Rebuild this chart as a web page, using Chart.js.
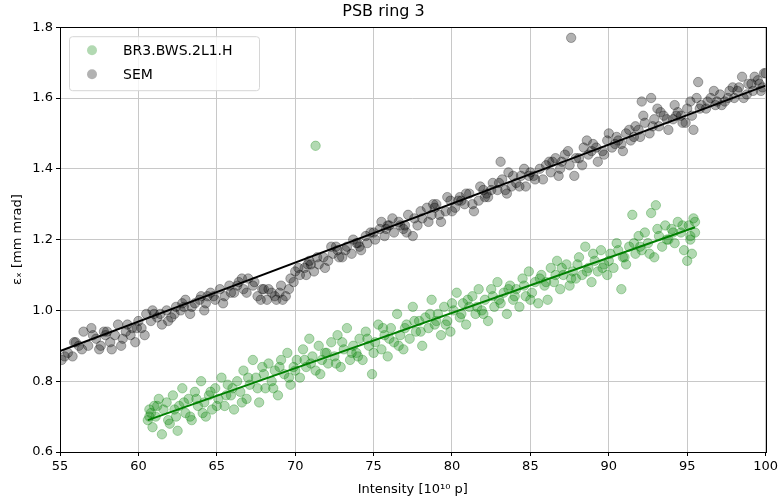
<!DOCTYPE html>
<html>
<head>
<meta charset="utf-8">
<script src="https://cdn.jsdelivr.net/npm/chart.js@4.4.1/dist/chart.umd.min.js"></script>
<style>
  html, body { margin: 0; padding: 0; background: #fff; }
  #wrap { width: 781px; height: 504px; }
</style>
</head>
<body>
<div id="wrap"><canvas id="chart" width="781" height="504"></canvas></div>
<script>
// PSB ring 3 - emittance vs intensity

const titulo = "PSB ring 3";
const xTicks = [55, 60, 65, 70, 75, 80, 85, 90, 95, 100];
const yTicks = [0.6, 0.8, 1.0, 1.2, 1.4, 1.6, 1.8];

// SEM (pontos pretos)
const semX = [
  55.1, 55.5, 55.8, 56.2, 56.5, 56.8, 57.0, 57.3, 57.6, 57.9, 58.2, 58.3, 58.5, 58.7, 59.0,
  59.2, 59.5, 59.8, 60.0, 60.2, 60.5, 60.8, 61.2, 61.5, 61.8, 62.1, 62.4, 62.7, 63.0, 63.3,
  63.6, 64.0, 64.3, 64.6, 64.9, 65.2, 65.5, 65.8, 66.1, 66.4, 66.7, 67.0, 67.3, 67.6, 67.9,
  68.2, 68.5, 68.8, 69.1, 69.4, 69.7, 70.0, 70.3, 70.6, 70.9, 71.2, 71.5, 71.8, 72.1, 72.4,
  72.7, 73.0, 73.3, 73.6, 73.9, 74.2, 74.5, 74.8, 75.1, 75.4, 75.7, 76.0, 76.3, 76.6, 76.9,
  77.2, 77.5, 77.8, 78.1, 78.4, 78.7, 79.0, 79.3, 79.6, 79.9, 80.2, 80.5, 80.8, 81.1, 81.4,
  81.7, 82.0, 82.3, 82.6, 82.9, 83.2, 83.5, 83.8, 83.6, 83.1, 84.1, 84.4, 84.7, 85.0, 85.3,
  85.6, 86.0, 86.3, 86.6, 86.9, 87.2, 87.5, 87.8, 88.1, 88.4, 88.7, 89.0, 89.3, 89.6, 89.9,
  90.2, 90.5, 90.8, 91.1, 91.4, 91.7, 92.0, 92.1, 92.7, 92.3, 92.6, 92.9, 93.2, 93.5, 93.8,
  93.1, 94.1, 94.4, 94.7, 95.0, 95.3, 95.4, 95.7, 95.6, 95.9, 96.2, 96.5, 96.8, 97.1, 97.4,
  97.7, 98.0, 98.3, 98.6, 98.9, 99.2, 99.5, 99.8, 99.9, 99.3, 98.5, 87.6,
  56.0, 57.8, 59.6, 61.0, 62.9, 64.4, 66.6, 68.0, 69.0, 70.8, 72.6, 74.0, 75.9, 77.0, 78.9,
  80.6, 82.2, 84.9, 86.4, 88.9, 90.6, 91.9, 94.3, 96.9, 97.9, 99.6,
  55.3, 55.9, 56.4, 57.1, 57.5, 58.0, 58.9, 59.3, 59.9, 60.4, 60.9, 61.4, 61.9, 62.3, 62.8,
  63.4, 63.9, 64.2, 64.8, 65.4, 65.9, 66.3, 66.9, 67.4, 67.8, 68.3, 68.7, 69.2, 69.6, 69.9,
  70.2, 70.7, 71.0, 71.4, 71.9, 72.3, 72.8, 73.2, 73.7, 74.1, 74.6, 75.0, 75.5, 75.8, 76.2,
  76.7, 77.1, 77.6, 78.0, 78.5, 78.8, 79.2, 79.7, 80.0, 80.4, 80.9, 81.3, 81.8, 82.1, 82.5,
  83.0, 83.4, 83.9, 84.3, 84.6, 85.2, 85.8, 86.2, 86.8, 87.0, 87.4, 87.9, 88.3, 88.6, 89.2,
  89.7, 90.0, 90.4, 90.9, 91.3, 91.6, 92.2, 92.8, 93.3, 93.7, 94.2, 94.6, 94.9, 95.2, 95.8,
  96.3, 96.7, 97.2, 97.6, 98.2, 98.8, 99.1, 99.7, 100.0
];
const semY = [
  0.86, 0.88, 0.87, 0.90, 0.94, 0.90, 0.95, 0.92, 0.90, 0.93, 0.91, 0.89, 0.93, 0.96, 0.92,
  0.94, 0.93, 0.91, 0.97, 0.95, 0.99, 0.97, 0.98, 0.96, 1.00, 0.98, 1.01, 1.00, 1.03, 0.99,
  1.02, 1.04, 1.02, 1.05, 1.03, 1.06, 1.04, 1.07, 1.05, 1.08, 1.06, 1.09, 1.07, 1.04, 1.06,
  1.03, 1.05, 1.03, 1.07, 1.04, 1.09, 1.11, 1.10, 1.12, 1.14, 1.11, 1.13, 1.15, 1.14, 1.16,
  1.17, 1.15, 1.18, 1.16, 1.19, 1.17, 1.21, 1.22, 1.20, 1.23, 1.21, 1.24, 1.22, 1.25, 1.23,
  1.27, 1.21, 1.24, 1.26, 1.29, 1.27, 1.30, 1.25, 1.28, 1.31, 1.29, 1.32, 1.30, 1.33, 1.28,
  1.31, 1.34, 1.32, 1.36, 1.34, 1.37, 1.33, 1.35, 1.39, 1.42, 1.36, 1.38, 1.35, 1.39, 1.37,
  1.40, 1.41, 1.39, 1.43, 1.40, 1.44, 1.41, 1.38, 1.43, 1.46, 1.44, 1.47, 1.42, 1.45, 1.48,
  1.46, 1.49, 1.47, 1.50, 1.48, 1.52, 1.49, 1.59, 1.60, 1.53, 1.50, 1.54, 1.52, 1.55, 1.51,
  1.57, 1.54, 1.56, 1.53, 1.57, 1.55, 1.51, 1.645, 1.60, 1.58, 1.57, 1.60, 1.58, 1.61, 1.59,
  1.62, 1.60, 1.63, 1.60, 1.64, 1.62, 1.65, 1.63, 1.67, 1.66, 1.66, 1.77,
  0.91, 0.94, 0.95, 0.99, 1.01, 1.04, 1.09, 1.06, 1.05, 1.13, 1.18, 1.19, 1.24, 1.24, 1.29,
  1.31, 1.33, 1.38, 1.42, 1.45, 1.48, 1.51, 1.55, 1.59, 1.63, 1.64,
  0.87, 0.91, 0.89, 0.93, 0.89, 0.94, 0.90, 0.96, 0.95, 0.93, 1.00, 0.99, 0.97, 0.99, 1.02,
  1.01, 1.03, 1.00, 1.04, 1.02, 1.05, 1.07, 1.05, 1.08, 1.03, 1.06, 1.04, 1.03, 1.06, 1.08,
  1.12, 1.10, 1.13, 1.15, 1.12, 1.18, 1.15, 1.17, 1.20, 1.18, 1.19, 1.22, 1.25, 1.23, 1.26,
  1.24, 1.22, 1.26, 1.28, 1.25, 1.30, 1.27, 1.32, 1.28, 1.31, 1.33, 1.30, 1.35, 1.32, 1.34,
  1.36, 1.34, 1.38, 1.35, 1.40, 1.38, 1.37, 1.42, 1.38, 1.42, 1.45, 1.43, 1.41, 1.48, 1.46,
  1.44, 1.50, 1.47, 1.45, 1.51, 1.49, 1.55, 1.52, 1.56, 1.54, 1.58, 1.55, 1.53, 1.59, 1.57,
  1.59, 1.62, 1.58, 1.60, 1.62, 1.61, 1.64, 1.62, 1.67
];

// BR3.BWS.2L1.H (pontos verdes)
const bwsX = [
  60.6, 60.7, 60.8, 60.9, 61.0, 61.1, 61.3, 61.5, 61.6, 61.8,
  62.0, 62.2, 62.4, 62.5, 62.6, 62.8, 63.0, 63.2, 63.4, 63.6, 63.8,
  64.0, 64.2, 64.3, 64.5, 64.7, 64.9, 65.1, 65.3, 65.5, 65.7, 65.9,
  66.1, 66.3, 66.5, 66.7, 66.9, 67.1, 67.3, 67.5, 67.7, 67.9,
  68.1, 68.3, 68.5, 68.7, 68.9, 69.1, 69.3, 69.5, 69.7, 69.9,
  70.1, 70.3, 70.5, 70.7, 70.9, 71.1, 71.3, 71.5, 71.7, 71.9, 71.3,
  72.1, 72.3, 72.5, 72.7, 72.9, 73.1, 73.3, 73.5, 73.7, 73.9,
  74.1, 74.3, 74.5, 74.7, 74.9, 75.1, 75.3, 75.5, 75.7, 75.9,
  76.1, 76.3, 76.5, 76.7, 76.9, 77.1, 77.3, 77.5, 77.7, 77.9,
  78.1, 78.3, 78.5, 78.7, 78.9, 79.1, 79.3, 79.5, 79.7, 79.9,
  80.1, 80.3, 80.5, 80.7, 80.9, 81.1, 81.3, 81.5, 81.7, 81.9,
  82.1, 82.3, 82.5, 82.7, 82.9, 83.1, 83.3, 83.5, 83.7, 83.9,
  84.1, 84.3, 84.5, 84.7, 84.9, 85.1, 85.3, 85.5, 85.7, 85.9,
  86.1, 86.3, 86.5, 86.7, 86.9, 87.1, 87.3, 87.5, 87.7, 87.9,
  88.1, 88.3, 88.5, 88.7, 88.9, 89.1, 89.3, 89.5, 89.7, 89.9,
  90.1, 90.3, 90.5, 90.8, 90.9, 91.1, 91.3, 91.5, 91.7, 91.9,
  92.1, 92.3, 92.5, 92.7, 92.9, 93.0, 93.2, 93.4, 93.6, 93.8,
  94.0, 94.2, 94.4, 94.6, 94.8, 95.0, 95.1, 95.2, 95.4, 95.5, 95.3,
  60.7, 61.2, 61.9, 62.3, 62.9, 63.3, 63.7, 64.1, 64.6, 65.0, 65.6, 66.0, 66.6, 67.0, 67.6,
  68.0, 68.6, 69.0, 69.6, 70.0, 70.6, 71.0, 71.6, 72.0, 72.6, 73.0, 73.6, 74.0, 74.6, 75.0,
  75.6, 76.0, 76.6, 77.0, 77.6, 78.0, 78.6, 79.0, 79.6, 80.0, 80.6, 81.0, 81.6, 82.0, 82.6,
  83.0, 83.6, 84.0, 84.6, 85.0, 85.6, 86.0, 86.6, 87.0, 87.6, 88.0, 88.6, 89.0, 89.6, 90.0,
  90.6, 91.0, 91.6, 92.0, 92.6, 93.1, 93.7, 94.1, 94.7, 95.2, 95.5
];
const bwsY = [
  0.69, 0.72, 0.71, 0.67, 0.73, 0.70, 0.75, 0.65, 0.72, 0.74,
  0.68, 0.76, 0.70, 0.66, 0.73, 0.78, 0.71, 0.75, 0.69, 0.77, 0.73,
  0.80, 0.74, 0.70, 0.76, 0.72, 0.78, 0.75, 0.81, 0.73, 0.79, 0.76,
  0.72, 0.80, 0.77, 0.83, 0.75, 0.79, 0.86, 0.81, 0.74, 0.84,
  0.78, 0.85, 0.80, 0.83, 0.76, 0.86, 0.82, 0.88, 0.79, 0.84,
  0.86, 0.81, 0.89, 0.84, 0.92, 0.87, 0.83, 0.90, 0.86, 0.88, 1.465,
  0.85, 0.91, 0.87, 0.93, 0.84, 0.89, 0.95, 0.86, 0.90, 0.88,
  0.92, 0.86, 0.94, 0.90, 0.82, 0.91, 0.96, 0.89, 0.93, 0.87,
  0.95, 0.91, 0.99, 0.93, 0.89, 0.96, 0.92, 1.01, 0.94, 0.97,
  0.90, 0.98, 0.95, 1.03, 0.96, 0.99, 0.93, 1.01, 0.97, 0.94,
  1.00, 1.05, 0.98, 1.02, 0.96, 1.01, 1.04, 0.99, 1.06, 1.00,
  1.03, 0.97, 1.06, 1.01, 1.08, 1.02, 1.05, 0.99, 1.07, 1.03,
  1.06, 1.01, 1.09, 1.04, 1.11, 1.05, 1.08, 1.02, 1.10, 1.07,
  1.03, 1.12, 1.08, 1.14, 1.06, 1.10, 1.13, 1.07, 1.11, 1.09,
  1.15, 1.10, 1.18, 1.12, 1.08, 1.14, 1.11, 1.17, 1.13, 1.10,
  1.16, 1.12, 1.19, 1.06, 1.15, 1.13, 1.18, 1.27, 1.16, 1.21,
  1.17, 1.22, 1.19, 1.275, 1.15, 1.297, 1.21, 1.18, 1.24, 1.20,
  1.23, 1.19, 1.25, 1.22, 1.17, 1.14, 1.24, 1.20, 1.26, 1.22, 1.16,
  0.70, 0.73, 0.69, 0.72, 0.74, 0.70, 0.75, 0.71, 0.77, 0.73, 0.76, 0.78, 0.74, 0.81, 0.78,
  0.82, 0.78, 0.84, 0.81, 0.83, 0.86, 0.85, 0.82, 0.88, 0.85, 0.91, 0.88, 0.87, 0.92, 0.88,
  0.95, 0.92, 0.90, 0.95, 0.97, 0.94, 0.99, 0.97, 0.96, 1.02, 0.99, 1.03, 1.01, 0.99, 1.04,
  1.03, 1.06, 1.04, 1.07, 1.03, 1.09, 1.08, 1.10, 1.12, 1.09, 1.13, 1.11, 1.16, 1.12, 1.14,
  1.17, 1.15, 1.19, 1.18, 1.16, 1.23, 1.20, 1.22, 1.24, 1.21, 1.25
];

// retas de ajuste (extremos)
const semFitX = [55, 100];
const semFitY = [0.885, 1.635];
const bwsFitX = [60.6, 95.5];
const bwsFitY = [0.69, 1.235];

const pares = (xs, ys) => xs.map((x, i) => ({ x: x, y: ys[i] }));

const fonte = "'DejaVu Sans', sans-serif";

// moldura preta e legenda dentro da área do gráfico
const molduraPlugin = {
  id: "moldura",
  afterDraw(chart) {
    const { ctx, chartArea: a } = chart;
    ctx.save();
    ctx.strokeStyle = "#000";
    ctx.lineWidth = 1;
    ctx.strokeRect(Math.round(a.left) + 0.5, Math.round(a.top) + 0.5,
      Math.round(a.right - a.left), Math.round(a.bottom - a.top));

    // legenda
    const bx = a.left + 9, by = a.top + 9, bw = 190, bh = 54;
    ctx.beginPath();
    ctx.roundRect(bx + 0.5, by + 0.5, bw, bh, 3);
    ctx.fillStyle = "rgba(255,255,255,0.8)";
    ctx.fill();
    ctx.strokeStyle = "#d6d6d6";
    ctx.stroke();

    const itens = [
      { label: "BR3.BWS.2L1.H", cor: "rgba(0,128,0,0.3)" },
      { label: "SEM", cor: "rgba(0,0,0,0.3)" }
    ];
    ctx.font = "14px " + fonte;
    ctx.textBaseline = "middle";
    itens.forEach((it, i) => {
      const cy = by + 14 + i * 24;
      ctx.beginPath();
      ctx.arc(bx + 23, cy, 5, 0, Math.PI * 2);
      ctx.fillStyle = it.cor;
      ctx.fill();
      ctx.fillStyle = "#000";
      ctx.fillText(it.label, bx + 54, cy + 1);
    });
    ctx.restore();
  }
};

new Chart(document.getElementById("chart").getContext("2d"), {
  type: "scatter",
  data: {
    datasets: [
      {
        type: "line",
        data: pares(semFitX, semFitY),
        borderColor: "#000",
        borderWidth: 2,
        pointRadius: 0,
        showLine: true,
        order: 0
      },
      {
        type: "line",
        data: pares(bwsFitX, bwsFitY),
        borderColor: "#008000",
        borderWidth: 2,
        pointRadius: 0,
        showLine: true,
        order: 0
      },
      {
        label: "BR3.BWS.2L1.H",
        data: pares(bwsX, bwsY),
        backgroundColor: "rgba(0,128,0,0.3)",
        borderColor: "rgba(0,128,0,0.3)",
        borderWidth: 1,
        pointRadius: 4.7,
        order: 2
      },
      {
        label: "SEM",
        data: pares(semX, semY),
        backgroundColor: "rgba(0,0,0,0.3)",
        borderColor: "rgba(0,0,0,0.3)",
        borderWidth: 1,
        pointRadius: 4.7,
        order: 1
      }
    ]
  },
  options: {
    responsive: false,
    animation: false,
    layout: { padding: { left: 0, right: 14, top: 0, bottom: 0 } },
    plugins: {
      legend: { display: false },
      tooltip: { enabled: false },
      title: {
        display: true,
        text: titulo,
        color: "#000",
        font: { family: fonte, size: 16, weight: "normal" },
        padding: { top: 2, bottom: 6 }
      }
    },
    scales: {
      x: {
        type: "linear",
        min: 55,
        max: 100,
        afterBuildTicks: (s) => { s.ticks = xTicks.map(v => ({ value: v })); },
        afterFit: (s) => { s.height = 52; },
        grid: { color: "#c8c8c8", lineWidth: 1, tickColor: "#000", tickLength: 4 },
        border: { display: false },
        ticks: { color: "#000", font: { family: fonte, size: 13 }, padding: 3, maxRotation: 0 },
        title: {
          display: true,
          text: "Intensity [10¹⁰ p]",
          color: "#000",
          font: { family: fonte, size: 13 },
          padding: { top: 2, bottom: 7 }
        }
      },
      y: {
        type: "linear",
        min: 0.6,
        max: 1.8,
        afterBuildTicks: (s) => { s.ticks = yTicks.map(v => ({ value: v })); },
        afterFit: (s) => { s.width = 60; },
        grid: { color: "#c8c8c8", lineWidth: 1, tickColor: "#000", tickLength: 4 },
        border: { display: false },
        ticks: {
          color: "#000",
          font: { family: fonte, size: 13 },
          padding: 3,
          callback: (v) => v.toFixed(1)
        },
        title: {
          display: true,
          text: "εₓ [mm mrad]",
          color: "#000",
          font: { family: fonte, size: 13 },
          padding: { top: 10, bottom: 2 }
        }
      }
    }
  },
  plugins: [molduraPlugin]
});
</script>
</body>
</html>
